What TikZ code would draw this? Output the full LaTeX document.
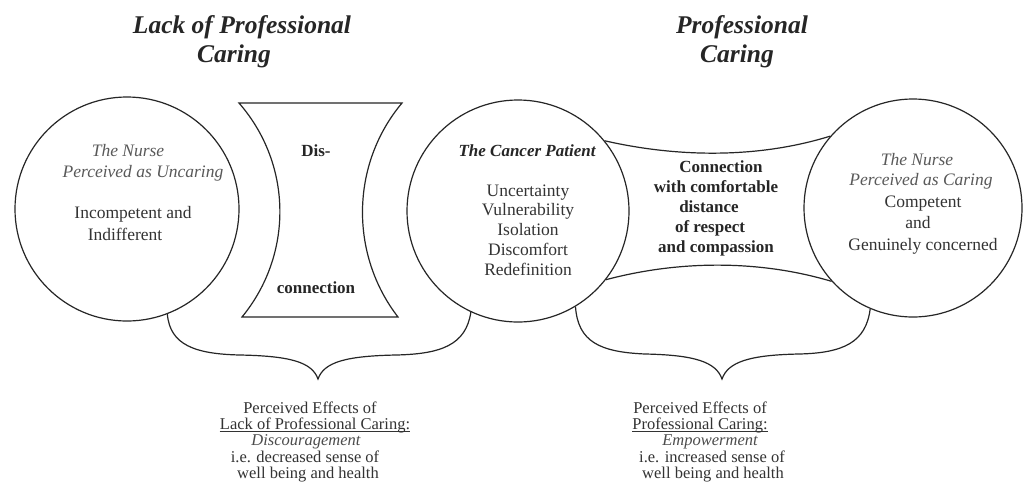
\documentclass[tikz,border=0pt]{standalone}
\usepackage{fontspec}
\setmainfont{Liberation Serif}
\begin{document}
\begin{tikzpicture}[x=1pt,y=-1pt,
  shapeline/.style={draw=black!85, line width=1.2pt},
  ring/.style={circle, draw=black!85, line width=1.2pt, inner sep=0pt},
  txt/.style={inner sep=0pt, anchor=base, text=black!80, font=\fontsize{17.5}{20}\selectfont},
  itx/.style={inner sep=0pt, anchor=base, text=black!65, font=\fontsize{17.5}{20}\selectfont\itshape},
  bfx/.style={inner sep=0pt, anchor=base, text=black!85, font=\fontsize{17}{20}\selectfont\bfseries},
  bix/.style={inner sep=0pt, anchor=base, text=black!85, font=\fontsize{17}{20}\selectfont\bfseries\itshape},
  title/.style={inner sep=0pt, anchor=base, text=black!85, font=\fontsize{25.5}{30}\selectfont\bfseries\itshape},
  bot/.style={inner sep=0pt, anchor=base, text=black!80, font=\fontsize{16.5}{17}\selectfont},
  boti/.style={inner sep=0pt, anchor=base, text=black!70, font=\fontsize{16.5}{17}\selectfont\itshape},
  uline/.style={draw=black!80, line width=0.7pt}]
\useasboundingbox (0,0) rectangle (1027,496);
\fill[white] (0,0) rectangle (1027,496);

% titles
\node[title] (t1) at (242,33) {Lack of Professional};
\node[title] (t2) at (234,62) {Caring};
\node[title] (t3) at (742,33) {Professional};
\node[title] (t4) at (737,62) {Caring};

% circles
\node[ring, minimum size=224pt] (L) at (127,209) {};
\node[ring, minimum size=222pt] (C) at (518,211) {};
\node[ring, minimum size=218pt] (R) at (913,208) {};

% hourglass (dis-connection)
\coordinate (h1) at (239,103);
\coordinate (h2) at (402,103);
\coordinate (h3) at (398,317);
\coordinate (h4) at (242,317);
\draw[shapeline] (h1) -- (h2) .. controls (350,165) and (350,255) .. (h3)
  -- (h4) .. controls (293,255) and (293,165) .. (h1) -- cycle;
\node[bfx] (dis) at (316,156) {Dis-};
\node[bfx] (con) at (316,293) {connection};

% connection band
\draw[shapeline] (C.39) .. controls (680,158) and (760,158) .. (R.139);
\draw[shapeline] (C.-38) .. controls (680,260) and (760,260) .. (R.-138);

% braces
\coordinate (tipL) at (318,379);
\coordinate (tipR) at (722,379);
\draw[shapeline] (L.-69) .. controls (170,345) and (195,354) .. (240,355)
  .. controls (290,356) and (312,362) .. (tipL)
  .. controls (324,362) and (346,356) .. (396,355)
  .. controls (441,354) and (466,345) .. (C.-115);
\draw[shapeline] (C.-59) .. controls (578,342) and (600,352) .. (645,354)
  .. controls (695,355) and (716,362) .. (tipR)
  .. controls (728,362) and (749,355) .. (799,354)
  .. controls (844,353) and (866,342) .. (R.-113.5);

% left circle text
\node[itx] (l1) at (128,156) {The Nurse};
\node[itx] (l2) at (143,177) {Perceived as Uncaring};
\node[txt] (l3) at (133,218) {Incompetent and};
\node[txt] (l4) at (125,240) {Indifferent};

% centre circle text
\node[bix] (c1) at (527,156) {The Cancer Patient};
\node[txt] (c2) at (528,196) {Uncertainty};
\node[txt] (c3) at (528,215) {Vulnerability};
\node[txt] (c4) at (528,235) {Isolation};
\node[txt] (c5) at (528,255) {Discomfort};
\node[txt] (c6) at (528,275) {Redefinition};

% connection text
\node[bfx] (k1) at (721,172) {Connection};
\node[bfx] (k2) at (716,192) {with comfortable};
\node[bfx] (k3) at (709,212) {distance};
\node[bfx] (k4) at (710,232) {of respect};
\node[bfx] (k5) at (716,252) {and compassion};

% right circle text
\node[itx] (r1) at (917,165) {The Nurse};
\node[itx] (r2) at (921,185) {Perceived as Caring};
\node[txt] (r3) at (923,207) {Competent};
\node[txt] (r4) at (918,228) {and};
\node[txt] (r5) at (923,250) {Genuinely concerned};

% bottom left text
\node[bot] (b1) at (310,413) {Perceived Effects of};
\node[bot] (b2) at (315,429) {Lack of Professional Caring:};
\node[boti] (b3) at (306,445) {Discouragement};
\node[bot] (b4) at (305,462) {i.e. decreased sense of};
\node[bot] (b5) at (308,478) {well being and health};
\draw[uline] ([yshift=-2.5pt]b2.base west) -- ([yshift=-2.5pt]b2.base east);

% bottom right text
\node[bot] (e1) at (700,413) {Perceived Effects of};
\node[bot] (e2) at (700,429) {Professional Caring:};
\node[boti] (e3) at (710,445) {Empowerment};
\node[bot] (e4) at (712,462) {i.e. increased sense of};
\node[bot] (e5) at (713,478) {well being and health};
\draw[uline] ([yshift=-2.5pt]e2.base west) -- ([yshift=-2.5pt]e2.base east);
\end{tikzpicture}
\end{document}
